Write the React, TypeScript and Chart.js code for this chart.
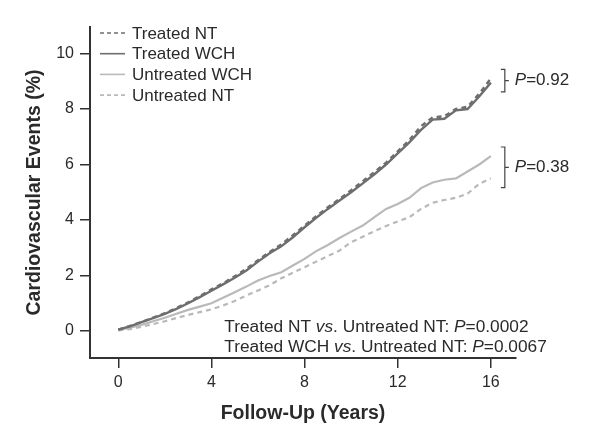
import React, { useEffect, useRef } from 'react';
import { Chart, registerables } from 'chart.js';

Chart.register(...registerables);

// ---- Data ----
const years = [0, 0.5, 1, 1.5, 2, 2.5, 3, 3.5, 4, 4.5, 5, 5.5, 6, 6.5, 7, 7.5, 8, 8.5, 9, 9.5, 10, 10.5, 11, 11.5, 12, 12.5, 13, 13.5, 14, 14.5, 15, 15.5, 16];
const treatedNT = [0.05, 0.18, 0.33, 0.48, 0.64, 0.83, 1.03, 1.26, 1.5, 1.72, 1.97, 2.24, 2.55, 2.85, 3.12, 3.45, 3.8, 4.14, 4.46, 4.76, 5.07, 5.4, 5.73, 6.07, 6.47, 6.88, 7.38, 7.7, 7.74, 8.0, 8.08, 8.55, 9.1];
const treatedWCH = [0.05, 0.17, 0.32, 0.46, 0.62, 0.8, 1.0, 1.22, 1.45, 1.68, 1.92, 2.18, 2.5, 2.8, 3.05, 3.38, 3.74, 4.08, 4.4, 4.7, 5.0, 5.32, 5.65, 6.0, 6.4, 6.8, 7.25, 7.62, 7.65, 7.95, 8.0, 8.45, 8.95];
const untreatedWCH = [0.04, 0.12, 0.22, 0.35, 0.48, 0.62, 0.76, 0.88, 1.0, 1.2, 1.4, 1.6, 1.82, 1.98, 2.12, 2.36, 2.6, 2.88, 3.1, 3.35, 3.58, 3.8, 4.1, 4.4, 4.58, 4.8, 5.15, 5.35, 5.45, 5.5, 5.75, 6.0, 6.3];
const untreatedNT = [0.02, 0.07, 0.15, 0.25, 0.35, 0.47, 0.58, 0.68, 0.78, 0.92, 1.08, 1.28, 1.46, 1.65, 1.9, 2.1, 2.3, 2.5, 2.7, 2.9, 3.2, 3.4, 3.6, 3.78, 3.95, 4.1, 4.4, 4.62, 4.72, 4.8, 4.95, 5.3, 5.5];

const seriesLabels = ['Treated NT', 'Treated WCH', 'Untreated WCH', 'Untreated NT'];
const xTicks = [0, 4, 8, 12, 16];
const yTicks = [0, 2, 4, 6, 8, 10];
const pairPValues = ['0.92', '0.38'];
const comparisonGroups = [
  ['Treated NT', 'Untreated NT', '0.0002'],
  ['Treated WCH', 'Untreated NT', '0.0067'],
];
const xTitle = 'Follow-Up (Years)';
const yTitle = 'Cardiovascular Events (%)';

const FONT = '"Liberation Sans", Arial, Helvetica, sans-serif';
const DARK = '#6e6e6e';
const LIGHT = '#b9b9b9';
const AXIS = '#333333';
const TEXT = '#2a2a2a';

type Seg = [string, boolean];

function drawRich(ctx: CanvasRenderingContext2D, segs: Seg[], x: number, y: number, size: number) {
  let cx = x;
  ctx.textBaseline = 'middle';
  ctx.textAlign = 'left';
  for (const [t, italic] of segs) {
    ctx.font = `${italic ? 'italic ' : ''}${size}px ${FONT}`;
    ctx.fillText(t, cx, y);
    cx += ctx.measureText(t).width;
  }
}

const overlayPlugin = {
  id: 'overlay',
  afterDraw(chart: any) {
    const { ctx, chartArea, scales } = chart;
    const xs = scales.x;
    const ys = scales.y;
    ctx.save();
    // Legend
    chart.data.datasets.forEach((ds: any, i: number) => {
      const y = chartArea.top + 6 + i * 20.7;
      ctx.beginPath();
      ctx.strokeStyle = ds.borderColor;
      ctx.lineWidth = 1.6;
      ctx.setLineDash(ds.borderDash && ds.borderDash.length ? [4, 3] : []);
      ctx.moveTo(chartArea.left + 10, y);
      ctx.lineTo(chartArea.left + 35, y);
      ctx.stroke();
      ctx.setLineDash([]);
      ctx.fillStyle = TEXT;
      ctx.font = `17px ${FONT}`;
      ctx.textBaseline = 'middle';
      ctx.textAlign = 'left';
      ctx.fillText(ds.label, chartArea.left + 42, y + 1);
    });

    // Brackets with P values
    const pairs = [[0, 1], [2, 3]];
    const ds = chart.data.datasets;
    pairs.forEach((pair, k) => {
      const a = ds[pair[0]].data[ds[pair[0]].data.length - 1].y;
      const b = ds[pair[1]].data[ds[pair[1]].data.length - 1].y;
      const top = ys.getPixelForValue(Math.max(a, b) + 0.33);
      const bot = ys.getPixelForValue(Math.min(a, b) - 0.33);
      const mid = (top + bot) / 2;
      const bx = xs.getPixelForValue(16.6);
      ctx.beginPath();
      ctx.strokeStyle = '#444';
      ctx.lineWidth = 1.2;
      ctx.moveTo(bx - 4, top);
      ctx.lineTo(bx, top);
      ctx.lineTo(bx, bot);
      ctx.lineTo(bx - 4, bot);
      ctx.moveTo(bx, mid);
      ctx.lineTo(bx + 4, mid);
      ctx.stroke();
      ctx.fillStyle = TEXT;
      drawRich(ctx, [['P', true], ['=' + pairPValues[k], false]], bx + 10, mid, 17);
    });

    // Comparison texts
    const tx = xs.getPixelForValue(4.55);
    const ty = ys.getPixelForValue(0.14);
    ctx.fillStyle = TEXT;
    comparisonGroups.forEach((g, i) => {
      drawRich(ctx, [
        [g[0] + ' ', false], ['vs', true], ['. ' + g[1] + ': ', false], ['P', true], ['=' + g[2], false],
      ], tx, ty + i * 20.5, 17.3);
    });
    ctx.restore();
  },
};

export default function App() {
  const ref = useRef<HTMLCanvasElement | null>(null);
  useEffect(() => {
    if (!ref.current) return;
    const mk = (vals: number[]) => years.map((x, i) => ({ x, y: vals[i] }));
    const chart = new Chart(ref.current, {
      type: 'line',
      data: {
        datasets: [
          { label: seriesLabels[0], data: mk(treatedNT), borderColor: DARK, borderWidth: 2.4, borderDash: [5, 4], pointRadius: 0, fill: false },
          { label: seriesLabels[1], data: mk(treatedWCH), borderColor: DARK, borderWidth: 2.4, borderDash: [], pointRadius: 0, fill: false },
          { label: seriesLabels[2], data: mk(untreatedWCH), borderColor: LIGHT, borderWidth: 2.2, borderDash: [], pointRadius: 0, fill: false },
          { label: seriesLabels[3], data: mk(untreatedNT), borderColor: LIGHT, borderWidth: 2.2, borderDash: [5, 4], pointRadius: 0, fill: false },
        ],
      },
      options: {
        animation: false,
        responsive: false,
        layout: { padding: { top: 27, right: 84, left: 0, bottom: 0 } },
        plugins: { legend: { display: false }, tooltip: { enabled: false } },
        scales: {
          x: {
            type: 'linear',
            min: -1.215,
            max: 17.08,
            afterBuildTicks: (s: any) => { s.ticks = xTicks.map((v) => ({ value: v })); },
            afterFit: (s: any) => { s.height = 76; },
            ticks: { color: TEXT, font: { size: 16, family: FONT }, padding: 5, autoSkip: false, maxRotation: 0, callback: (v: any) => String(v) },
            grid: { drawOnChartArea: false, drawTicks: true, tickLength: 10, color: AXIS, lineWidth: 1.5 },
            border: { display: true, color: AXIS, width: 2 },
            title: { display: true, text: xTitle, color: TEXT, font: { size: 19.5, weight: 'bold', family: FONT }, padding: { top: 0, bottom: 8.3 } },
          },
          y: {
            type: 'linear',
            min: -0.973,
            max: 10.955,
            afterBuildTicks: (s: any) => { s.ticks = yTicks.map((v) => ({ value: v })); },
            afterFit: (s: any) => { s.width = 90; },
            ticks: { color: TEXT, font: { size: 16, family: FONT }, padding: 6, autoSkip: false, callback: (v: any) => String(v) },
            grid: { drawOnChartArea: false, drawTicks: true, tickLength: 10, color: AXIS, lineWidth: 1.5 },
            border: { display: true, color: AXIS, width: 2 },
            title: { display: true, text: yTitle, color: TEXT, font: { size: 19.5, weight: 'bold', family: FONT }, padding: { top: 23.3, bottom: 0 } },
          },
        },
      } as any,
      plugins: [overlayPlugin],
    });
    return () => chart.destroy();
  }, []);
  return (
    <div style={{ position: 'fixed', left: 0, top: 0, width: 600, height: 434, background: '#fff' }}>
      <canvas ref={ref} width={600} height={434} style={{ display: 'block' }} />
    </div>
  );
}
